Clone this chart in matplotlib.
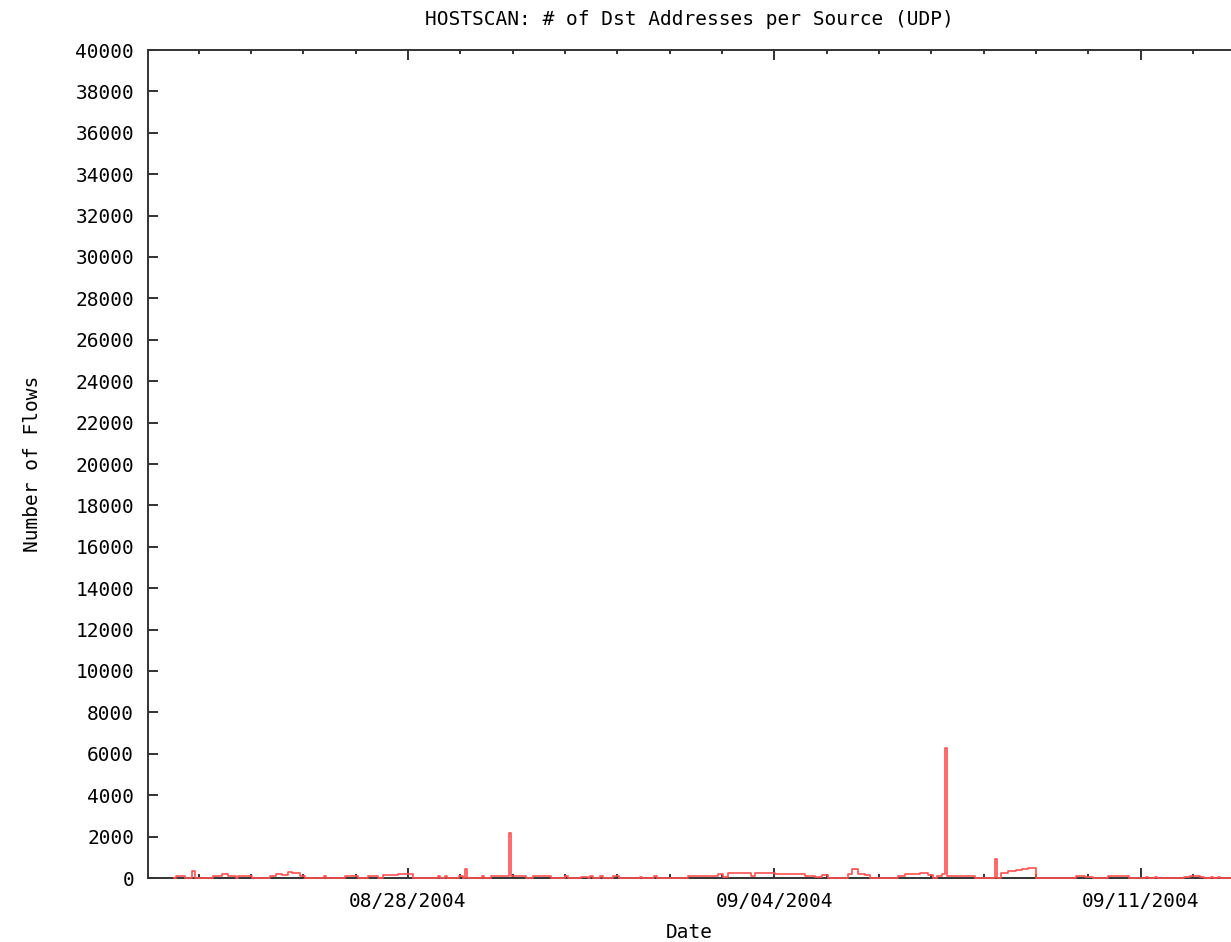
import matplotlib
matplotlib.use("Agg")
import matplotlib.pyplot as plt
import matplotlib.dates as mdates
from datetime import datetime, timedelta

# ---- data (hours since 2004-08-23 00:00, value valid from that hour on) ----
start_date = datetime(2004, 8, 23, 0, 0)
red_hours = [12.7, 13.6, 17.8, 21.0, 22.4, 30.6, 34.7, 37.5, 41.1, 42.1,
             48.5, 56.7, 59.5, 62.2, 65.0, 66.8, 70.5, 72.8, 81.5, 82.4,
             91.1, 97.1, 101.7, 103.5, 106.3, 108.5, 115.4, 122.3, 133.8, 134.7,
             137.0, 137.9, 143.4, 145.2, 146.1, 147.1, 153.9, 154.9, 158.1, 162.2,
             166.3, 167.2, 170.4, 174.1, 177.3, 182.8, 185.6, 192.0, 193.4, 199.3,
             202.5, 203.5, 204.8, 208.0, 209.4, 214.0, 216.8, 226.4, 227.3, 232.8,
             234.2, 248.4, 262.1, 264.4, 266.7, 277.3, 279.1, 288.3, 302.0, 303.4,
             306.6, 309.8, 312.6, 321.7, 323.6, 326.3, 329.5, 331.8, 344.7, 347.9,
             354.8, 358.4, 360.7, 362.6, 364.8, 366.2, 367.1, 380.0, 389.1, 390.1,
             391.9, 395.1, 398.8, 401.5, 404.3, 407.9, 426.3, 428.1, 430.4, 434.1,
             441.0, 444.6, 448.8, 450.6, 458.4, 459.3, 462.5, 463.4, 475.8, 478.6,
             483.1, 485.0, 488.2, 489.1, 491.4, 492.3, 500.0]
red_values = [0, 100, 0, 350, 0, 120, 180, 120, 0, 100,
              0, 100, 200, 150, 280, 250, 120, 0, 80, 0,
              120, 0, 80, 120, 0, 150, 170, 0, 80, 0,
              80, 0, 100, 0, 420, 0, 80, 0, 100, 80,
              2150, 100, 120, 0, 120, 80, 0, 100, 0, 60,
              0, 80, 0, 80, 0, 100, 0, 60, 0, 80,
              0, 100, 200, 60, 220, 80, 220, 200, 80, 100,
              60, 140, 0, 200, 450, 200, 150, 0, 120, 180,
              220, 150, 0, 80, 200, 6300, 80, 0, 920, 0,
              250, 320, 380, 420, 470, 0, 80, 100, 60, 0,
              120, 80, 100, 0, 60, 0, 60, 0, 60, 100,
              60, 0, 60, 0, 60, 0, 0]

y_ticks = list(range(0, 40001, 2000))
x_limits_hours = [0.8, 497.4]

title = "HOSTSCAN: # of Dst Addresses per Source (UDP)"
x_label = "Date"
y_label = "Number of Flows"

# ---- plot ----
font = "DejaVu Sans Mono"
fs = 14
fig = plt.figure(figsize=(12.31, 9.42), dpi=100)
ax = fig.add_axes([148 / 1231, 64 / 942, 1 - 148 / 1231, 828 / 942])

times = [start_date + timedelta(hours=h) for h in red_hours]
ax.step(times, red_values, where="post", color="#ff5050", linewidth=1.2,
        zorder=5, clip_on=False)

ax.set_xlim(start_date + timedelta(hours=x_limits_hours[0]),
            start_date + timedelta(hours=x_limits_hours[1]))
ax.set_ylim(0, 40000)
ax.set_yticks(y_ticks)
ax.set_yticklabels([str(v) for v in y_ticks], fontfamily=font, fontsize=fs)

ax.xaxis.set_major_locator(mdates.DayLocator(bymonthday=[28, 4, 11]))
ax.xaxis.set_major_formatter(mdates.DateFormatter("%m/%d/%Y"))
ax.xaxis.set_minor_locator(mdates.DayLocator())
for lab in ax.get_xticklabels():
    lab.set_fontfamily(font)
    lab.set_fontsize(fs)

ax.tick_params(axis="both", which="major", direction="in", length=7.5,
               width=1.3, color="#222222", top=True, bottom=True, left=True,
               right=False, pad=10)
ax.tick_params(axis="x", which="minor", direction="in", length=3,
               width=1.3, color="#222222", top=True, bottom=True)
ax.tick_params(axis="y", which="minor", left=False, right=False)

for s in ["left", "top", "bottom"]:
    ax.spines[s].set_linewidth(1.4)
    ax.spines[s].set_color("#333333")
ax.spines["right"].set_visible(False)

ax.set_title(title, fontfamily=font, fontsize=fs, pad=18)
ax.set_xlabel(x_label, fontfamily=font, fontsize=fs, labelpad=9)
ax.set_ylabel(y_label, fontfamily=font, fontsize=fs, labelpad=24)

fig.savefig("out.png", dpi=100)
